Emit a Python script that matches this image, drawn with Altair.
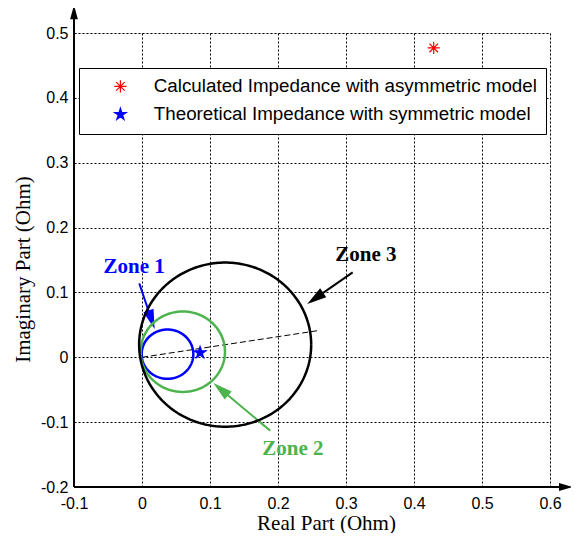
import altair as alt
import numpy as np
import pandas as pd

# ---- data ----
zone_names = ["Zone 1", "Zone 2", "Zone 3"]
zone_cx = [0.0375, 0.0600, 0.1223]
zone_cy = [0.0048, 0.0086, 0.0195]
zone_r = [0.0380, 0.0620, 0.1265]
zone_colors = ["#0000FF", "#4DB34D", "#000000"]

label_x = [-0.0115, 0.2219, 0.3294]
label_y = [0.139, -0.1413, 0.158]
arrow_x = [-0.004, 0.1885, 0.3098]
arrow_y = [0.114, -0.1131, 0.131]
head_x = [0.014, 0.1158, 0.2547]
head_y = [0.0578, -0.0492, 0.0909]
head_angle = [161.6, 310.2, 235.0]

dash_x = [0.0, 0.258]
dash_y = [0.0, 0.041]

series = ["Calculated Impedance with asymmetric model",
          "Theoretical Impedance with symmetric model"]
series_x = [0.429, 0.0854]
series_y = [0.477, 0.0071]
series_colors = ["#FF0000", "#0000FF"]
series_fill = ["transparent", "#0000FF"]

x_ticks = [-0.1, 0, 0.1, 0.2, 0.3, 0.4, 0.5, 0.6]
y_ticks = [-0.2, -0.1, 0, 0.1, 0.2, 0.3, 0.4, 0.5]

axis_line_end_x = 0.625
axis_line_end_y = 0.535
axis_head_x = 0.6236
axis_head_y = 0.532

ASTERISK = "M0,-1L0,1M-1,0L1,0M-0.7,-0.7L0.7,0.7M-0.7,0.7L0.7,-0.7"
STAR = ("M0,-1L0.225,-0.309L0.951,-0.309L0.363,0.118L0.588,0.809L0,0.382"
        "L-0.588,0.809L-0.363,0.118L-0.951,-0.309L-0.225,-0.309Z")
HEAD = "M0,-1L0.55,1L-0.55,1Z"

xs = alt.Scale(domain=[-0.1, 0.6], nice=False, zero=False)
ys = alt.Scale(domain=[-0.2, 0.5], nice=False, zero=False)
LBL = "datum.value < 0 ? '-' + format(-datum.value, '~g') : format(datum.value, '~g')"

x_axis = alt.Axis(values=x_ticks, labelExpr=LBL, grid=True, domain=False, ticks=False,
                  labelFlush=False, labelOverlap=False, labelPadding=8,
                  labelFont="Liberation Sans", labelFontSize=16, labelColor="black",
                  titleFont="Liberation Serif", titleFontSize=21, titleFontWeight="normal",
                  titleColor="black", titleX=252, titleY=42, titleAlign="center",
                  titleBaseline="alphabetic",
                  gridColor="black", gridDash=[2, 2], gridOpacity=1, gridWidth=1)
y_axis = alt.Axis(values=y_ticks, labelExpr=LBL, grid=True, domain=False, ticks=False,
                  labelFlush=False, labelOverlap=False, labelPadding=6,
                  labelFont="Liberation Sans", labelFontSize=16, labelColor="black",
                  titleFont="Liberation Serif", titleFontSize=21, titleFontWeight="normal",
                  titleColor="black", titleX=-45, titleY=236, titleAlign="center",
                  titleBaseline="alphabetic", titleAngle=270,
                  gridColor="black", gridDash=[2, 2], gridOpacity=1, gridWidth=1)


def X(f):
    return alt.X(f, scale=xs, axis=x_axis, title="Real Part (Ohm)")


def Y(f):
    return alt.Y(f, scale=ys, axis=y_axis, title="Imaginary Part (Ohm)")


layers = []

# axis lines with arrow heads
base_axes = alt.Chart(pd.DataFrame({"x": [-0.1], "y": [-0.2]}))
layers.append(base_axes.mark_rule(color="black", strokeWidth=2).encode(
    x=X("x:Q"), y=Y("y:Q"), y2=alt.datum(axis_line_end_y)))
layers.append(base_axes.mark_rule(color="black", strokeWidth=2).encode(
    x=X("x:Q"), x2=alt.datum(axis_line_end_x), y=Y("y:Q")))
layers.append(alt.Chart(pd.DataFrame({"x": [-0.1], "y": [axis_head_y]})).mark_point(
    shape=HEAD, filled=True, color="black", size=200, opacity=1).encode(x=X("x:Q"), y=Y("y:Q")))
layers.append(alt.Chart(pd.DataFrame({"x": [axis_head_x], "y": [-0.2]})).mark_point(
    shape=HEAD, filled=True, color="black", size=200, angle=90, opacity=1).encode(x=X("x:Q"), y=Y("y:Q")))

# dashed line
layers.append(alt.Chart(pd.DataFrame({"x": dash_x, "y": dash_y})).mark_line(
    color="black", strokeWidth=1, strokeDash=[6, 3]).encode(x=X("x:Q"), y=Y("y:Q")))

theta = np.linspace(0, 2 * np.pi, 241)
for k in range(3):
    col = zone_colors[k]
    cdf = pd.DataFrame({"i": np.arange(len(theta)),
                        "x": zone_cx[k] + zone_r[k] * np.cos(theta),
                        "y": zone_cy[k] + zone_r[k] * np.sin(theta)})
    layers.append(alt.Chart(cdf).mark_line(color=col, strokeWidth=2.5).encode(
        x=X("x:Q"), y=Y("y:Q"), order="i:Q"))
    adf = pd.DataFrame({"ax": [arrow_x[k]], "ay": [arrow_y[k]], "hx": [head_x[k]], "hy": [head_y[k]],
                        "lx": [label_x[k]], "ly": [label_y[k]], "t": [zone_names[k]]})
    layers.append(alt.Chart(adf).mark_rule(color=col, strokeWidth=2).encode(
        x=X("ax:Q"), y=Y("ay:Q"), x2="hx:Q", y2="hy:Q"))
    layers.append(alt.Chart(adf).mark_point(shape=HEAD, filled=True, color=col, size=380,
                                            angle=head_angle[k], opacity=1).encode(
        x=X("hx:Q"), y=Y("hy:Q")))
    layers.append(alt.Chart(adf).mark_text(font="Liberation Serif", fontSize=21, fontWeight="bold",
                                           align="center", baseline="middle", color=col).encode(
        x=X("lx:Q"), y=Y("ly:Q"), text="t:N"))

pts_df = pd.DataFrame({"series": series, "x": series_x, "y": series_y})
leg = alt.Legend(title=None, orient="none", legendX=5, legendY=35,
                 strokeColor="black", fillColor="white", padding=9,
                 symbolOffset=23, labelOffset=24, rowPadding=8,
                 labelFont="Liberation Sans", labelFontSize=18.8, labelColor="black",
                 symbolSize=150, symbolStrokeWidth=1.2, labelLimit=1000)
layers.append(alt.Chart(pts_df).mark_point(filled=False, size=150, strokeWidth=1.2, opacity=1).encode(
    x=X("x:Q"), y=Y("y:Q"),
    color=alt.Color("series:N", scale=alt.Scale(domain=series, range=series_colors), legend=leg),
    fill=alt.Fill("series:N", scale=alt.Scale(domain=series, range=series_fill), legend=leg),
    shape=alt.Shape("series:N", scale=alt.Scale(domain=series, range=[ASTERISK, STAR]), legend=leg),
))

chart = alt.layer(*layers).properties(
    width=476, height=454,
    autosize=alt.AutoSizeParams(type="none"),
    padding={"left": 66, "top": 25, "right": 21, "bottom": 46},
).configure_view(strokeWidth=0).configure(background="white")

chart.save("out.html", embed_options={"renderer": "svg", "actions": False})
